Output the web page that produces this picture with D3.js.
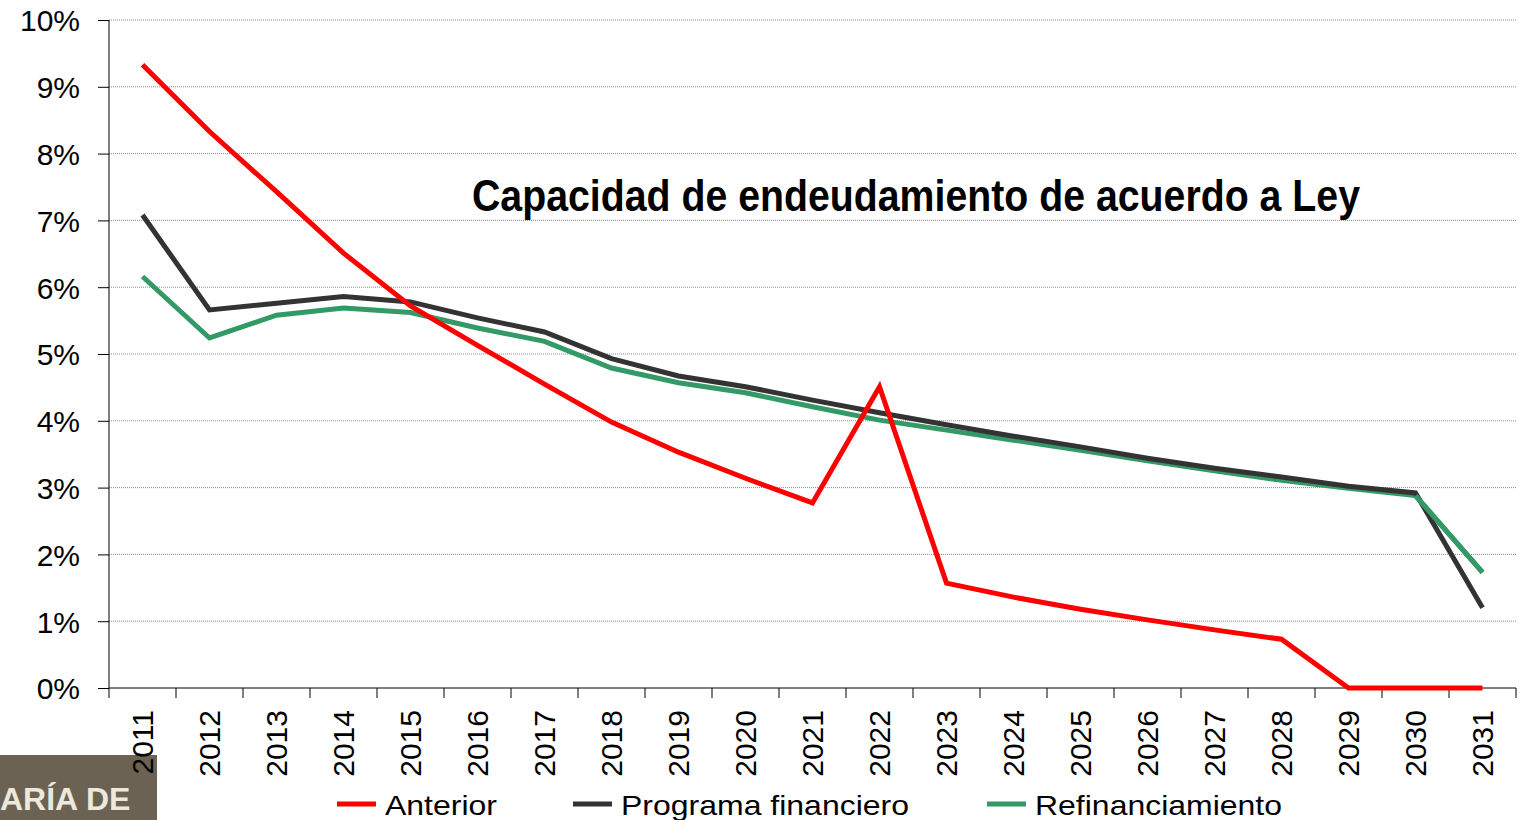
<!DOCTYPE html>
<html>
<head>
<meta charset="utf-8">
<script src="https://cdn.jsdelivr.net/npm/d3@7"></script>
<style>
  html, body { margin: 0; padding: 0; background: #fff; }
  svg { display: block; }
</style>
</head>
<body>
<svg id="chart" width="1522" height="820"></svg>
<script>
    // data
    var years = ["2011","2012","2013","2014","2015","2016","2017","2018","2019","2020",
                 "2021","2022","2023","2024","2025","2026","2027","2028","2029","2030","2031"];
    var anterior = [9.33, 8.33, 7.43, 6.51, 5.72, 5.13, 4.55, 3.98, 3.53, 3.14,
                    2.77, 4.51, 1.57, 1.36, 1.18, 1.02, 0.87, 0.73, 0, 0, 0];
    var programa = [7.08, 5.66, 5.76, 5.86, 5.78, 5.54, 5.33, 4.93, 4.67, 4.51,
                    4.31, 4.12, 3.94, 3.77, 3.61, 3.44, 3.29, 3.16, 3.02, 2.92, 1.20];
    var refinanciamiento = [6.16, 5.24, 5.58, 5.69, 5.62, 5.39, 5.19, 4.79, 4.57, 4.42,
                            4.21, 4.01, 3.86, 3.71, 3.56, 3.40, 3.25, 3.11, 2.99, 2.88, 1.73];
    var yTicks = [0, 1, 2, 3, 4, 5, 6, 7, 8, 9, 10];
    var seriesNames = ["Anterior", "Programa financiero", "Refinanciamiento"];
    var seriesColors = ["#ff0000", "#333333", "#339966"];

    var svg = d3.select("#chart");
    var mLeft = 109, mRight = 1516, mTop = 20, mBottom = 688;

    var x = d3.scaleBand().domain(years).range([mLeft, mRight]);
    var y = d3.scaleLinear().domain([0, 10]).range([mBottom, mTop]);

    // logo fragment bottom-left (behind the axis labels)
    svg.append("rect")
      .attr("x", 0).attr("y", 755).attr("width", 157).attr("height", 65)
      .attr("fill", "#6b6254");
    svg.append("text")
      .attr("x", 0).attr("y", 810)
      .attr("fill", "#ece8dc")
      .style("font-family", "Liberation Sans Narrow, Liberation Sans, sans-serif")
      .style("font-weight", "bold")
      .style("font-size", "32px")
      .text("ARÍA DE");

    // grid
    svg.append("g")
      .selectAll("line")
      .data(yTicks.filter(function(d) { return d > 0; }))
      .enter().append("line")
      .attr("x1", mLeft).attr("x2", mRight)
      .attr("y1", function(d) { return y(d); })
      .attr("y2", function(d) { return y(d); })
      .attr("stroke", "#8a8a8a")
      .attr("stroke-width", 1)
      .attr("stroke-dasharray", "1,1");

    // y axis
    var yAxis = svg.append("g")
      .attr("transform", "translate(" + mLeft + ",0)")
      .call(d3.axisLeft(y).tickValues(yTicks).tickSize(11).tickPadding(18)
        .tickFormat(function(d) { return d + "%"; }));
    yAxis.select(".domain").attr("stroke", "#000").attr("d", "M0," + mTop + "V" + mBottom);
    yAxis.selectAll(".tick line").attr("stroke", "#000");
    yAxis.selectAll(".tick text")
      .attr("fill", "#000")
      .style("font-family", "Liberation Sans, Arial, sans-serif")
      .style("font-size", "30px")
      .attr("dy", "0.36em");

    // x axis: ticks at band boundaries
    var xAxis = svg.append("g").attr("transform", "translate(0," + mBottom + ")");
    xAxis.append("line").attr("x1", mLeft).attr("x2", mRight).attr("stroke", "#000");
    xAxis.selectAll("line.tk")
      .data(years.concat(["end"]))
      .enter().append("line")
      .attr("class", "tk")
      .attr("x1", function(d, i) { return mLeft + i * x.step(); })
      .attr("x2", function(d, i) { return mLeft + i * x.step(); })
      .attr("y1", 0).attr("y2", 10)
      .attr("stroke", "#000");
    xAxis.selectAll("text")
      .data(years)
      .enter().append("text")
      .attr("transform", function(d) {
        return "translate(" + (x(d) + x.bandwidth() / 2 + 10) + ",22) rotate(-90)";
      })
      .attr("text-anchor", "end")
      .style("font-family", "Liberation Sans, Arial, sans-serif")
      .style("font-size", "30px")
      .attr("fill", "#000")
      .text(function(d) { return d; });

    // lines
    var line = d3.line()
      .x(function(d, i) { return x(years[i]) + x.bandwidth() / 2; })
      .y(function(d) { return y(d); });

    [refinanciamiento, programa, anterior].forEach(function(s) {
      var k = s === anterior ? 0 : (s === programa ? 1 : 2);
      svg.append("path")
        .datum(s)
        .attr("fill", "none")
        .attr("stroke", seriesColors[k])
        .attr("stroke-width", 5)
        .attr("stroke-linejoin", "miter")
        .attr("d", line);
    });
    // green above black from 2030 on
    svg.append("path")
      .datum(refinanciamiento.slice(19))
      .attr("fill", "none")
      .attr("stroke", seriesColors[2])
      .attr("stroke-width", 5)
      .attr("d", d3.line()
        .x(function(d, i) { return x(years[19 + i]) + x.bandwidth() / 2; })
        .y(function(d) { return y(d); }));

    // title
    svg.append("text")
      .attr("x", 916).attr("y", 211)
      .attr("text-anchor", "middle")
      .attr("textLength", 888)
      .attr("lengthAdjust", "spacingAndGlyphs")
      .style("font-family", "Liberation Sans Narrow, Arial Narrow, Liberation Sans, sans-serif")
      .style("font-weight", "bold")
      .style("font-size", "45px")
      .text("Capacidad de endeudamiento de acuerdo a Ley");

    // legend
    var legX = [337, 573, 987];
    var legW = [112, 288, 247];
    var leg = svg.append("g");
    seriesNames.forEach(function(n, k) {
      leg.append("line")
        .attr("x1", legX[k]).attr("x2", legX[k] + 39)
        .attr("y1", 804).attr("y2", 804)
        .attr("stroke", seriesColors[k]).attr("stroke-width", 5);
      leg.append("text")
        .attr("x", legX[k] + 48).attr("y", 815)
        .attr("textLength", legW[k])
        .attr("lengthAdjust", "spacingAndGlyphs")
        .style("font-family", "Liberation Sans, Arial, sans-serif")
        .style("font-size", "28px")
        .text(n);
    });
</script>
</body>
</html>
